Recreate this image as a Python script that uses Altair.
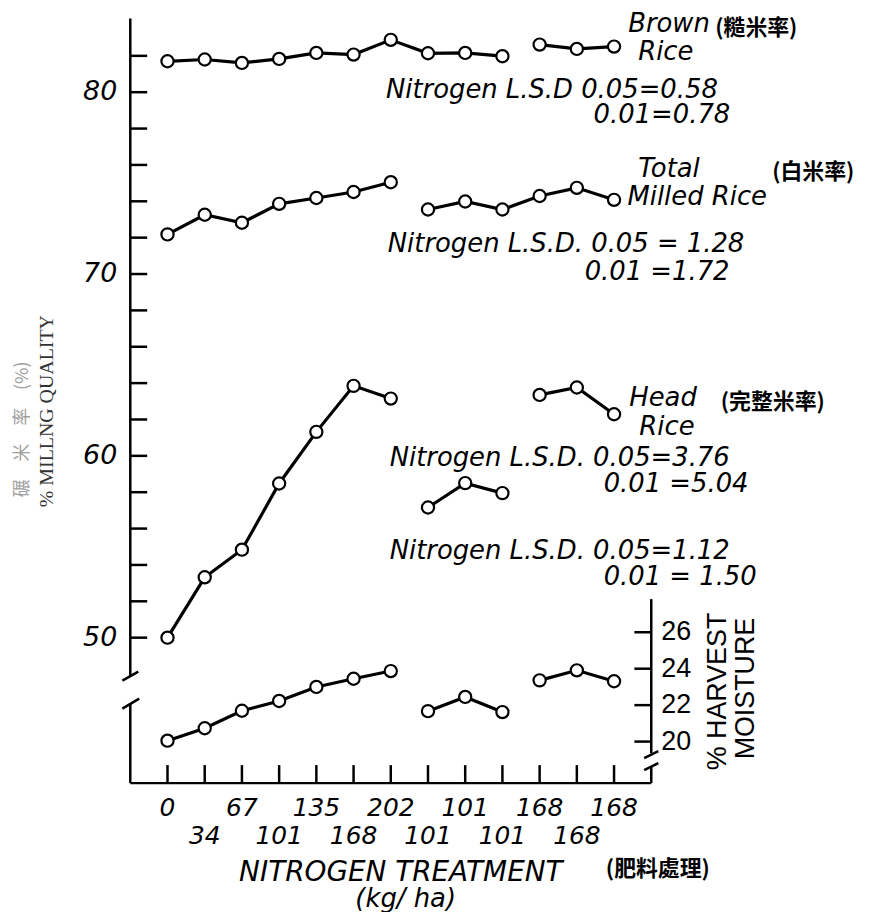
import altair as alt
import pandas as pd

# ---------------- data ----------------
x_labels = ["0", "34", "67", "101", "135", "168", "202",
            "101", "101", "101", "168", "168", "168"]

brown_rice = [81.70, 81.80, 81.61, 81.83, 82.16, 82.07, 82.88,
              82.14, 82.16, 81.98, 82.62, 82.38, 82.51]
brown_groups = [0] * 10 + [1] * 3

total_milled = [72.18, 73.26, 72.82, 73.86, 74.18, 74.51, 75.05,
                73.55, 73.99, 73.55, 74.29, 74.74, 74.08]
total_groups = [0] * 7 + [1] * 6

head_rice = [50.00, 53.32, 54.84, 58.48, 61.32, 63.85, 63.15,
             57.16, 58.50, 57.95, 63.35, 63.76, 62.29]
head_groups = [0] * 7 + [1] * 3 + [2] * 3

harvest_moisture = [20.05, 20.73, 21.69, 22.23, 23.00, 23.45, 23.87,
                    21.67, 22.45, 21.62, 23.36, 23.91, 23.31]
moisture_groups = [0] * 7 + [1] * 3 + [2] * 3

left_ticks = list(range(50, 84, 2))
left_labels = [50, 60, 70, 80]
right_ticks = [20, 22, 24, 26]

# annotation texts
lettering_texts = [
    "Brown", "Rice", "Nitrogen L.S.D 0.05=0.58", "0.01=0.78",
    "Total", "Milled Rice", "Nitrogen L.S.D. 0.05 = 1.28", "0.01 =1.72",
    "Head", "Rice", "Nitrogen L.S.D. 0.05=3.76", "0.01 =5.04",
    "Nitrogen L.S.D. 0.05=1.12", "0.01 = 1.50",
]
cjk_texts = ["(糙米率)", "(白米率)", "(完整米率)", "(肥料處理)"]
moisture_title = ["% HARVEST", "MOISTURE"]
y_title_en = "% MILLNG QUALITY"
y_title_zh = "碾　米　率　(%)"
x_title = ["NITROGEN TREATMENT", "(kg/ ha)"]

# ---------------- layout (data units) ----------------
X_DOMAIN = [-1, 13]
Y_LEFT = [42.0, 84.05]
Y_RIGHT = [17.72, 59.68]
TICK_X = 0.454      # tick length along x (index units)
TICK_Y = 0.99       # tick length along y (left units)
LPAD = 0.35         # label gap (index units)
RPAD = 0.27

lettering_pos = [
    (12.38, 83.76), (12.65, 82.22), (5.87, 80.12), (11.45, 78.76),
    (12.65, 75.77), (12.36, 74.26), (5.92, 71.63), (11.21, 70.09),
    (12.41, 63.17), (12.68, 61.58), (5.97, 59.88), (11.72, 58.45),
    (5.97, 54.77), (11.72, 53.35),
]
cjk_pos = [(14.72, 83.55), (16.25, 75.62), (14.87, 62.97), (11.78, 37.25)]
moisture_title_pos = [(14.79, 47.04), (15.54, 47.2)]
y_title_pos = [(-3.24, 62.46), (-3.88, 61.45)]
x_title_pos = [(6.27, 37.05), (6.40, 35.62)]
xlab_row_y = [40.61, 39.08]

left_axis_lines = pd.DataFrame({
    "x": [-1, -1, -1.213, -1.213, -1],
    "x2": [-1, -1, -0.785, -0.759, 13],
    "y": [84.05, 46.38, 47.64, 46.10, 42.0],
    "y2": [47.91, 42.0, 48.13, 46.65, 42.0],
})
right_axis_lines = pd.DataFrame({
    "x": [13, 12.81, 12.81, 13],
    "x2": [13, 13.19, 13.19, 13],
    "y": [27.82, 19.09, 18.43, 18.65],
    "y2": [19.36, 19.47, 18.82, 17.72],
})


def series_df(name, vals, groups):
    return pd.DataFrame({
        "idx": list(range(len(vals))),
        "value": vals,
        "seg": [f"{name}-{g}" for g in groups],
    })


mill = pd.concat([
    series_df("brown", brown_rice, brown_groups),
    series_df("total", total_milled, total_groups),
    series_df("head", head_rice, head_groups),
], ignore_index=True)
moist = series_df("moist", harvest_moisture, moisture_groups)

xs = alt.Scale(domain=X_DOMAIN, nice=False, zero=False)
yl = alt.Scale(domain=Y_LEFT, nice=False, zero=False)
yr = alt.Scale(domain=Y_RIGHT, nice=False, zero=False)

LETTER_FONT = "DejaVu Sans"


def X(field):
    return alt.X(field, type="quantitative", scale=xs, axis=None)


def Y(field, scale):
    return alt.Y(field, type="quantitative", scale=scale, axis=None)


def rules(df, scale, width=2.5):
    return alt.Chart(df).mark_rule(color="black", strokeWidth=width).encode(
        x=X("x"), x2="x2", y=Y("y", scale), y2="y2")


def text_layer(texts, xs_, ys_, scale, **kw):
    df = pd.DataFrame({"t": texts, "x": xs_, "y": ys_})
    return alt.Chart(df).mark_text(**kw).encode(
        x=X("x"), y=Y("y", scale), text="t:N")


def pos_text(texts, pos, scale, **kw):
    return text_layer(texts, [p[0] for p in pos], [p[1] for p in pos], scale, **kw)


# ---------------- left (milling quality) group ----------------
mill_lines = alt.Chart(mill).mark_line(color="black", strokeWidth=3.2).encode(
    x=X("idx"), y=Y("value", yl), detail="seg:N", order="idx:Q")
mill_points = alt.Chart(mill).mark_point(
    shape="circle", filled=True, fill="white", stroke="black",
    strokeWidth=2.2, size=150, opacity=1
).encode(x=X("idx"), y=Y("value", yl))

left_tick_df = pd.DataFrame({"x": [X_DOMAIN[0]] * len(left_ticks),
                             "x2": [X_DOMAIN[0] + TICK_X] * len(left_ticks),
                             "y": left_ticks, "y2": left_ticks})
n = len(x_labels)
x_tick_df = pd.DataFrame({"x": list(range(n)), "x2": list(range(n)),
                          "y": [Y_LEFT[0]] * n, "y2": [Y_LEFT[0] + TICK_Y] * n})

left_labels_layer = text_layer([str(v) for v in left_labels],
                               [X_DOMAIN[0] - LPAD] * len(left_labels), left_labels, yl,
                               font=LETTER_FONT, fontStyle="italic", fontSize=27,
                               color="black", align="right", baseline="middle")
xlabels = text_layer(x_labels, list(range(n)), [xlab_row_y[i % 2] for i in range(n)], yl,
                     font=LETTER_FONT, fontStyle="italic", fontSize=25, color="black",
                     align="center", baseline="middle")

letters = pos_text(lettering_texts, lettering_pos, yl, font=LETTER_FONT,
                   fontStyle="italic", fontSize=26, color="black",
                   align="left", baseline="middle")
cjk = pos_text(cjk_texts, cjk_pos, yl, font="Noto Sans CJK TC", fontSize=22,
               fontWeight="bold", color="black", align="left", baseline="middle")
moist_title = pos_text(moisture_title, moisture_title_pos, yl,
                       font="Liberation Sans", fontSize=27, color="black",
                       align="center", baseline="middle", angle=270)
ytitle_en = pos_text([y_title_en], y_title_pos[:1], yl, font="Liberation Serif",
                     fontSize=20, color="#333333", align="center",
                     baseline="middle", angle=270)
ytitle_zh = pos_text([y_title_zh], y_title_pos[1:], yl, font="Noto Sans CJK SC",
                     fontSize=18, color="#a0a0a0", align="center",
                     baseline="middle", angle=270)
xtitle_main = pos_text(x_title[:1], x_title_pos[:1], yl, font=LETTER_FONT,
                       fontStyle="italic", fontSize=28, color="black",
                       align="center", baseline="middle")
xtitle_unit = pos_text(x_title[1:], x_title_pos[1:], yl, font=LETTER_FONT,
                       fontStyle="italic", fontSize=26, color="black",
                       align="center", baseline="middle")

left_group = alt.layer(
    rules(left_axis_lines, yl), rules(left_tick_df, yl), rules(x_tick_df, yl),
    mill_lines, mill_points, left_labels_layer, xlabels, letters, cjk,
    moist_title, ytitle_en, ytitle_zh, xtitle_main, xtitle_unit)

# ---------------- right (harvest moisture) group ----------------
moist_lines = alt.Chart(moist).mark_line(color="black", strokeWidth=3.2).encode(
    x=X("idx"), y=Y("value", yr), detail="seg:N", order="idx:Q")
moist_points = alt.Chart(moist).mark_point(
    shape="circle", filled=True, fill="white", stroke="black",
    strokeWidth=2.2, size=150, opacity=1
).encode(x=X("idx"), y=Y("value", yr))

right_tick_df = pd.DataFrame({"x": [X_DOMAIN[1] - TICK_X] * len(right_ticks),
                              "x2": [X_DOMAIN[1]] * len(right_ticks),
                              "y": right_ticks, "y2": right_ticks})
right_labels_layer = text_layer([str(v) for v in right_ticks],
                                [X_DOMAIN[1] + RPAD] * len(right_ticks), right_ticks, yr,
                                font="Liberation Sans", fontSize=27, color="black",
                                align="left", baseline="middle")

right_group = alt.layer(rules(right_axis_lines, yr), rules(right_tick_df, yr),
                        moist_lines, moist_points, right_labels_layer)

chart = alt.layer(left_group, right_group).resolve_scale(y="independent").properties(
    width=524, height=769,
    autosize=alt.AutoSizeParams(type="none"),
    padding={"left": 123, "top": 8, "right": 219, "bottom": 127},
    background="white",
).configure_view(stroke=None).configure_axis(grid=False)

chart.save("out.html", embed_options={"renderer": "svg", "actions": False})
